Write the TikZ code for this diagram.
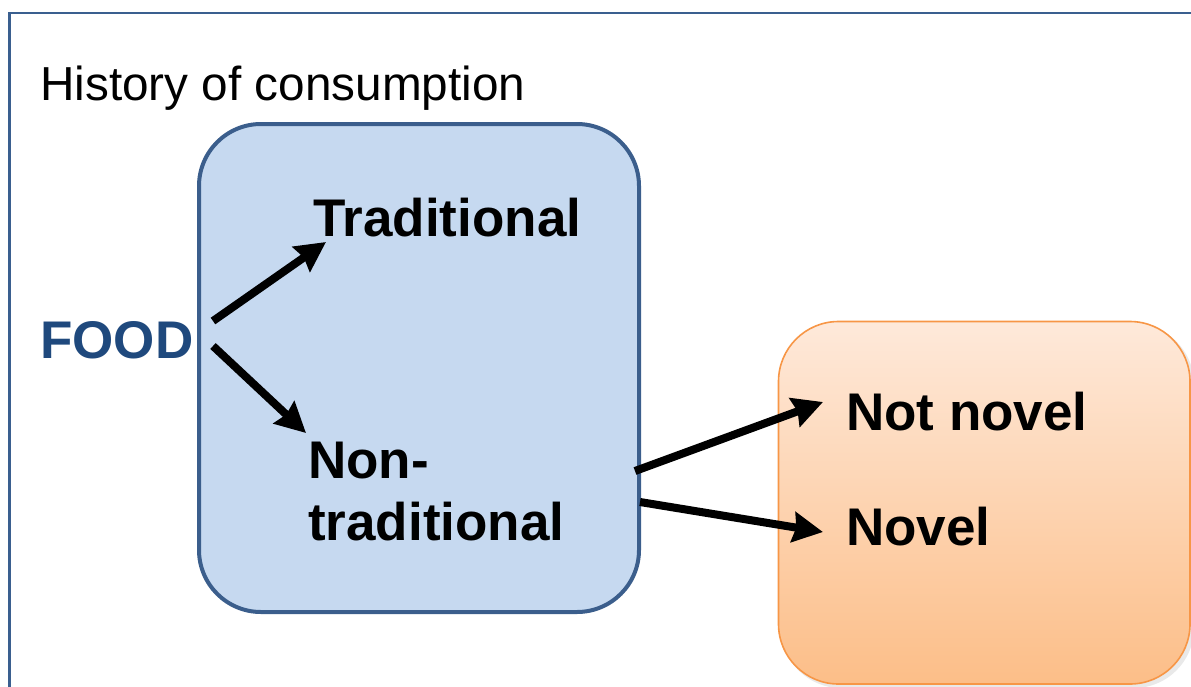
\documentclass[tikz,border=0pt]{standalone}
\usepackage{fontspec}
\setmainfont{Liberation Sans}
\usetikzlibrary{arrows.meta}
\definecolor{framecol}{HTML}{3A5F8F}
\definecolor{blueedge}{HTML}{3B5E8C}
\definecolor{bluefill}{HTML}{C6D9F0}
\definecolor{foodcol}{HTML}{1F497D}
\definecolor{orangeedge}{HTML}{F79646}
\definecolor{orangetop}{HTML}{FEE9DA}
\definecolor{orangebot}{HTML}{FCBE88}
\tikzset{
  lbl/.style={inner sep=0pt, anchor=base west, font=\fontsize{53}{62}\selectfont\bfseries},
  arr/.style={line width=8pt, -{Triangle[length=30pt,width=30pt,inset=3pt]}, black}
}
\begin{document}
\begin{tikzpicture}[x=1pt,y=-1pt]
\useasboundingbox (0,0) rectangle (1191,686);
\begin{scope}
\clip (0,0) rectangle (1191,686);
\draw[framecol, line width=2.2pt] (9.5,13) rectangle (1250,760);
\node[inner sep=0pt, anchor=base west, font=\fontsize{47.7}{56}\selectfont] (title) at (40,100) {History of consumption};
\draw[blueedge, fill=bluefill, line width=4pt, rounded corners=62pt] (199,124) rectangle (639,612);
\fill[black!25, opacity=0.35, rounded corners=60pt] (781,324) rectangle (1194,688);
\shade[top color=orangetop, bottom color=orangebot, draw=orangeedge, line width=1.6pt, rounded corners=60pt] (778.5,321.5) rectangle (1190,684);
\end{scope}
\node[lbl] (trad) at (313,236) {Traditional};
\node[lbl, text=foodcol] (food) at (40,358) {FOOD};
\node[lbl] (non1) at (308,478) {Non-};
\node[lbl] (non2) at (308,540) {traditional};
\node[lbl] (notnovel) at (846,430) {Not novel};
\node[lbl] (novel) at (846,545) {Novel};
\coordinate (a1s) at (213,321);
\coordinate (a1e) at (326,242);
\coordinate (a2s) at (213,346);
\coordinate (a2e) at (306,433);
\coordinate (a3s) at (635,471);
\coordinate (a3e) at (823,402);
\coordinate (a4s) at (640,502);
\coordinate (a4e) at (823,532);
\draw[arr] (a1s) -- (a1e);
\draw[arr] (a2s) -- (a2e);
\draw[arr] (a3s) -- (a3e);
\draw[arr] (a4s) -- (a4e);
\end{tikzpicture}
\end{document}
